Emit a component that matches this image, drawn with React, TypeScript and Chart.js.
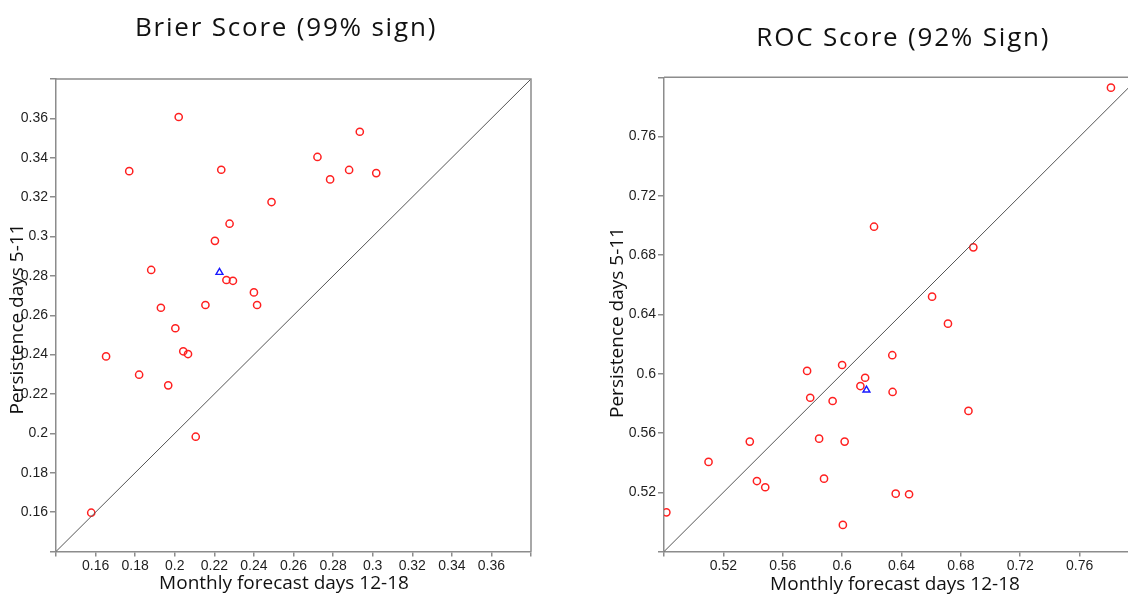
import React, { useEffect, useRef } from "react";
import { Chart, registerables } from "chart.js";

Chart.register(...registerables);

// ---------- Brier score panel ----------
const brierMonthly = [
  0.202, 0.177, 0.2235, 0.2721, 0.2935, 0.2785, 0.2881, 0.3018, 0.2489, 0.2277,
  0.2203, 0.1881, 0.2261, 0.2294, 0.24, 0.2416, 0.2155, 0.193, 0.2003, 0.1653,
  0.2043, 0.2067, 0.182, 0.1967, 0.2106, 0.1578,
];
const brierPersistence = [
  0.3607, 0.3332, 0.3339, 0.3404, 0.3532, 0.329, 0.3338, 0.3322, 0.3175, 0.3065,
  0.2978, 0.283, 0.2779, 0.2775, 0.2716, 0.2652, 0.2652, 0.2638, 0.2534, 0.2391,
  0.2417, 0.2403, 0.2298, 0.2244, 0.1983, 0.1597,
];
const brierMeanMonthly = [0.2226];
const brierMeanPersistence = [0.2818];
const brierTicks = [0.14, 0.16, 0.18, 0.2, 0.22, 0.24, 0.26, 0.28, 0.3, 0.32, 0.34, 0.36, 0.38];
const brierTickLabels = ["", "0.16", "0.18", "0.2", "0.22", "0.24", "0.26", "0.28", "0.3", "0.32", "0.34", "0.36", ""];

// ---------- ROC score panel ----------
const rocMonthly = [
  0.7811, 0.6215, 0.6884, 0.6606, 0.6713, 0.6338, 0.6, 0.5764, 0.6155, 0.6123,
  0.634, 0.5785, 0.5936, 0.6851, 0.5845, 0.6017, 0.5378, 0.51, 0.5426, 0.5482,
  0.5878, 0.6361, 0.6451, 0.4816, 0.6005,
];
const rocPersistence = [
  0.793, 0.6992, 0.6853, 0.652, 0.6338, 0.6125, 0.6059, 0.6019, 0.5973, 0.5917,
  0.5877, 0.5838, 0.5816, 0.5749, 0.5562, 0.5542, 0.5542, 0.5405, 0.5276, 0.5234,
  0.5292, 0.5191, 0.5187, 0.5065, 0.498,
];
const rocMeanMonthly = [0.6164];
const rocMeanPersistence = [0.589];
const rocTicks = [0.48, 0.52, 0.56, 0.6, 0.64, 0.68, 0.72, 0.76, 0.8];
const rocTickLabels = ["", "0.52", "0.56", "0.6", "0.64", "0.68", "0.72", "0.76", ""];

const xTitle = "Monthly forecast days 12-18";
const yTitle = "Persistence days 5-11";

const AXIS_GRAY = "#8c8c8c";
const TICK_FONT = { family: "'Liberation Sans', Arial, sans-serif", size: 14 };
const LABEL_FONT = "19px 'Open Sans', sans-serif";
const TITLE_FONT = "26px 'Open Sans', sans-serif";

const textPlugin = {
  id: "panelTexts",
  afterDraw(chart: any, _args: any, opts: any) {
    const ctx = chart.ctx;
    for (const t of opts.items || []) {
      ctx.save();
      ctx.font = t.font;
      ctx.fillStyle = t.color || "#111";
      ctx.textAlign = "center";
      ctx.textBaseline = "alphabetic";
      if ("letterSpacing" in ctx) (ctx as any).letterSpacing = t.spacing || "0px";
      ctx.translate(t.x, t.y);
      if (t.rotate) ctx.rotate(t.rotate);
      ctx.fillText(t.text, 0, 0);
      ctx.restore();
    }
  },
};

const framePlugin = {
  id: "panelFrame",
  afterDatasetsDraw(chart: any) {
    const { ctx, chartArea } = chart;
    ctx.save();
    ctx.strokeStyle = AXIS_GRAY;
    ctx.lineWidth = 1.5;
    ctx.beginPath();
    ctx.moveTo(chartArea.left, chartArea.top);
    ctx.lineTo(chartArea.right, chartArea.top);
    ctx.lineTo(chartArea.right, chartArea.bottom);
    ctx.stroke();
    ctx.restore();
  },
};

type PanelProps = {
  left: number;
  width: number;
  monthly: number[];
  persistence: number[];
  meanMonthly: number[];
  meanPersistence: number[];
  ticks: number[];
  tickLabels: string[];
  yAxisWidth: number;
  padding: { left: number; top: number; right: number; bottom: number };
  xAxisHeight: number;
  texts: any[];
};

function Panel(p: PanelProps) {
  const ref = useRef<HTMLCanvasElement | null>(null);
  useEffect(() => {
    if (!ref.current) return;
    const lo = p.ticks[0];
    const hi = p.ticks[p.ticks.length - 1];
    const scaleCommon = (isX: boolean) => ({
      type: "linear" as const,
      min: lo,
      max: hi,
      afterBuildTicks: (s: any) => {
        s.ticks = p.ticks.map((v) => ({ value: v }));
      },
      afterFit: (s: any) => {
        if (isX) s.height = p.xAxisHeight;
        else s.width = p.yAxisWidth;
      },
      ticks: {
        callback: (_v: any, i: number) => p.tickLabels[i],
        font: TICK_FONT,
        color: "#1e1e1e",
        padding: isX ? 1 : 2,
        autoSkip: false,
        minRotation: 0,
        maxRotation: 0,
      },
      grid: {
        drawOnChartArea: false,
        drawTicks: true,
        tickLength: isX ? 5 : 6,
        color: AXIS_GRAY,
        lineWidth: 1.5,
      },
      border: { display: true, color: AXIS_GRAY, width: 1.5 },
      title: { display: false },
    });
    const chart = new Chart(ref.current, {
      type: "scatter",
      data: {
        datasets: [
          {
            type: "line",
            data: [
              { x: lo, y: lo },
              { x: hi, y: hi },
            ],
            borderColor: "#555555",
            borderWidth: 1,
            pointRadius: 0,
            fill: false,
          } as any,
          {
            data: p.monthly.map((x, i) => ({ x, y: p.persistence[i] })),
            pointStyle: "circle",
            pointRadius: 3.6,
            borderColor: "#ff2020",
            backgroundColor: "rgba(0,0,0,0)",
            borderWidth: 1.5,
          },
          {
            data: p.meanMonthly.map((x, i) => ({ x, y: p.meanPersistence[i] })),
            pointStyle: "triangle",
            pointRadius: 4,
            borderColor: "#1a1aff",
            backgroundColor: "rgba(0,0,0,0)",
            borderWidth: 1.4,
          },
        ],
      },
      options: {
        responsive: false,
        animation: false,
        events: [],
        layout: { padding: p.padding },
        scales: { x: scaleCommon(true), y: scaleCommon(false) },
        plugins: {
          legend: { display: false },
          tooltip: { enabled: false },
          panelTexts: { items: p.texts },
        } as any,
      },
      plugins: [framePlugin, textPlugin],
    });
    return () => chart.destroy();
  }, []);
  return (
    <canvas
      ref={ref}
      width={p.width}
      height={596}
      style={{ position: "absolute", left: p.left, top: 0, width: p.width, height: 596, display: "block" }}
    />
  );
}

export default function App() {
  return (
    <div
      style={{
        position: "absolute",
        left: 0,
        top: 0,
        width: 1128,
        height: 596,
        overflow: "hidden",
        background: "#ffffff",
      }}
    >
      <Panel
        left={0}
        width={580}
        monthly={brierMonthly}
        persistence={brierPersistence}
        meanMonthly={brierMeanMonthly}
        meanPersistence={brierMeanPersistence}
        ticks={brierTicks}
        tickLabels={brierTickLabels}
        yAxisWidth={56}
        xAxisHeight={44.5}
        padding={{ left: 0, top: 79, right: 49, bottom: 0 }}
        texts={[
          { text: "Brier Score (99% sign)", x: 286, y: 36, font: TITLE_FONT, spacing: "1.8px" },
          { text: xTitle, x: 284, y: 589, font: LABEL_FONT },
          { text: yTitle, x: 22.5, y: 319, font: LABEL_FONT, rotate: -Math.PI / 2 },
        ]}
      />
      <Panel
        left={600}
        width={560}
        monthly={rocMonthly}
        persistence={rocPersistence}
        meanMonthly={rocMeanMonthly}
        meanPersistence={rocMeanPersistence}
        ticks={rocTicks}
        tickLabels={rocTickLabels}
        yAxisWidth={64}
        xAxisHeight={44.4}
        padding={{ left: 0, top: 77.3, right: 21, bottom: 0 }}
        texts={[
          { text: "ROC Score (92% Sign)", x: 303.3, y: 45.7, font: TITLE_FONT, spacing: "1.8px" },
          { text: xTitle, x: 295, y: 589.5, font: LABEL_FONT },
          { text: yTitle, x: 22.6, y: 322.5, font: LABEL_FONT, rotate: -Math.PI / 2 },
        ]}
      />
    </div>
  );
}
